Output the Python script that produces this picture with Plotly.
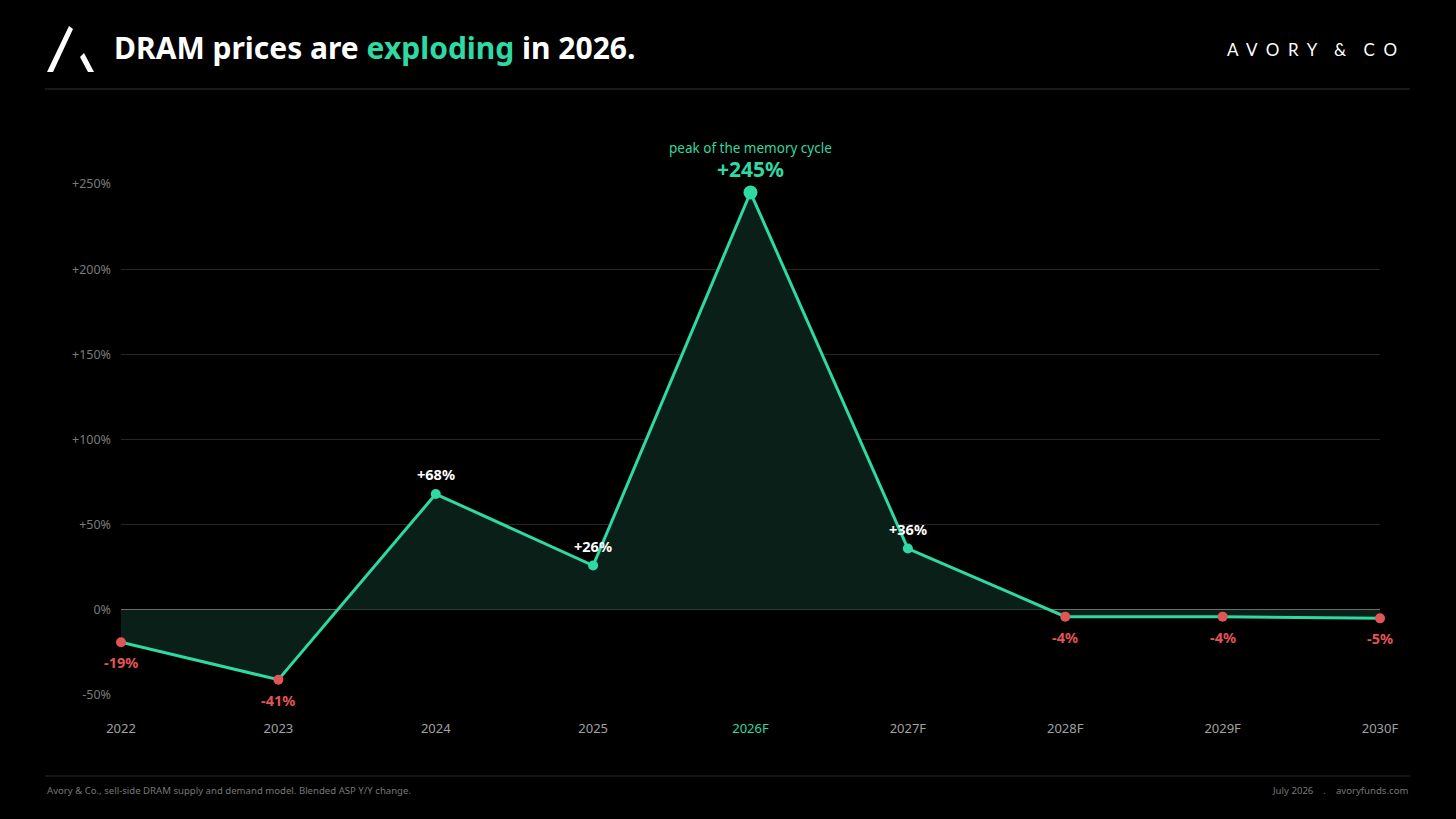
import plotly.graph_objects as go

# ----------------------------
# data
# ----------------------------
years = ["2022", "2023", "2024", "2025", "2026F", "2027F", "2028F", "2029F", "2030F"]
yoy_change = [-19, -41, 68, 26, 245, 36, -4, -4, -5]
y_ticks = [-50, 0, 50, 100, 150, 200, 250]
y_tick_labels = ["-50%", "0%", "+50%", "+100%", "+150%", "+200%", "+250%"]
peak_year = "2026F"

GREEN = "#2ed9a3"
RED = "#e05555"
FILL = "#0a1f18"
FONT = "Noto Sans"

W, H = 1456, 819


def px_x(x):
    return x / W


def px_y(y):
    return 1 - y / H


idx = list(range(len(years)))
marker_colors = [GREEN if v >= 0 else RED for v in yoy_change]
marker_sizes = [14 if y == peak_year else 10 for y in years]

fig = go.Figure()

fig.add_trace(go.Scatter(
    x=idx,
    y=yoy_change,
    mode="lines+markers",
    line=dict(color=GREEN, width=3),
    marker=dict(color=marker_colors, size=marker_sizes, opacity=1, line=dict(width=0)),
    fill="tozeroy",
    fillcolor=FILL,
    hoverinfo="skip",
    cliponaxis=False,
))

# point labels
for i, (yr, v) in enumerate(zip(years, yoy_change)):
    if yr == peak_year:
        fig.add_annotation(x=i, y=v, xref="x", yref="y", text=f"<b>+{v}%</b>",
                           showarrow=False, yshift=24,
                           font=dict(family=FONT, size=21, color=GREEN))
        fig.add_annotation(x=i, y=v, xref="x", yref="y", text="peak of the memory cycle",
                           showarrow=False, yshift=45,
                           font=dict(family=FONT, size=13.5, color=GREEN))
    elif v >= 0:
        fig.add_annotation(x=i, y=v, xref="x", yref="y", text=f"<b>+{v}%</b>",
                           showarrow=False, yshift=20,
                           font=dict(family=FONT, size=14.5, color="white"))
    else:
        fig.add_annotation(x=i, y=v, xref="x", yref="y", text=f"<b>{v}%</b>",
                           showarrow=False, yshift=-20,
                           font=dict(family=FONT, size=14.5, color=RED))

# x tick labels (peak year highlighted)
x_tick_text = [f"<span style='color:{GREEN}'>{y}</span>" if y == peak_year else y
               for y in years]

fig.update_xaxes(
    domain=[px_x(121), px_x(1380)],
    range=[0, len(years) - 1],
    tickvals=idx,
    ticktext=x_tick_text,
    showgrid=False,
    zeroline=False,
    showline=False,
    ticks="",
    tickfont=dict(family=FONT, size=13, color="#a0a0a0"),
    ticklabelstandoff=24,
    automargin=False,
    fixedrange=True,
)
fig.update_yaxes(
    domain=[px_y(695), px_y(184)],
    range=[-50, 250],
    tickvals=y_ticks,
    ticktext=y_tick_labels,
    showgrid=True,
    gridcolor="#262626",
    gridwidth=1,
    zeroline=True,
    zerolinecolor="#8a8a8a",
    zerolinewidth=1,
    showline=False,
    ticks="",
    tickfont=dict(family=FONT, size=12.5, color="#7a7a7a"),
    ticklabelstandoff=9,
    automargin=False,
    fixedrange=True,
)

# ----------------------------
# header / footer
# ----------------------------
fig.add_annotation(xref="paper", yref="paper", x=px_x(112), y=px_y(47),
                   xanchor="left", yanchor="middle", showarrow=False,
                   text=f"<b>DRAM prices are <span style='color:{GREEN}'>exploding</span> in 2026.</b>",
                   font=dict(family=FONT, size=30, color="white"))
fig.add_annotation(xref="paper", yref="paper", x=px_x(1399), y=px_y(49),
                   xanchor="right", yanchor="middle", showarrow=False,
                   text="A  V  O  R  Y    &amp;    C  O",
                   font=dict(family="Lato", size=17, color="white"))
fig.add_annotation(xref="paper", yref="paper", x=px_x(45), y=px_y(790),
                   xanchor="left", yanchor="middle", showarrow=False,
                   text="Avory &amp; Co., sell-side DRAM supply and demand model. Blended ASP Y/Y change.",
                   font=dict(family=FONT, size=9.6, color="#777777"))
fig.add_annotation(xref="paper", yref="paper", x=px_x(1410), y=px_y(790),
                   xanchor="right", yanchor="middle", showarrow=False,
                   text="July 2026    .    avoryfunds.com",
                   font=dict(family=FONT, size=9.6, color="#777777"))

# rules
fig.add_shape(type="line", xref="paper", yref="paper",
              x0=px_x(45), x1=px_x(1410), y0=px_y(89), y1=px_y(89),
              line=dict(color="#333333", width=1))
fig.add_shape(type="line", xref="paper", yref="paper",
              x0=px_x(45), x1=px_x(1410), y0=px_y(776), y1=px_y(776),
              line=dict(color="#2a2a2a", width=1))

# logo
fig.add_shape(type="path", xref="paper", yref="paper",
              path=(f"M {px_x(47)},{px_y(72)} L {px_x(53)},{px_y(72)} "
                    f"L {px_x(73)},{px_y(29)} L {px_x(69)},{px_y(26)} Z"),
              fillcolor="white", line=dict(width=0))
fig.add_shape(type="path", xref="paper", yref="paper",
              path=(f"M {px_x(80)},{px_y(57)} L {px_x(84)},{px_y(53)} "
                    f"L {px_x(94)},{px_y(72)} L {px_x(88)},{px_y(72)} Z"),
              fillcolor="white", line=dict(width=0))

fig.update_layout(
    width=W,
    height=H,
    paper_bgcolor="black",
    plot_bgcolor="black",
    margin=dict(l=0, r=0, t=0, b=0, pad=0, autoexpand=False),
    showlegend=False,
    font=dict(family=FONT),
)

fig.write_html(
    "out.html",
    config={"displayModeBar": False},
    post_script="document.body.style.margin='0';document.body.style.overflow='hidden';document.body.style.background='black';",
)
